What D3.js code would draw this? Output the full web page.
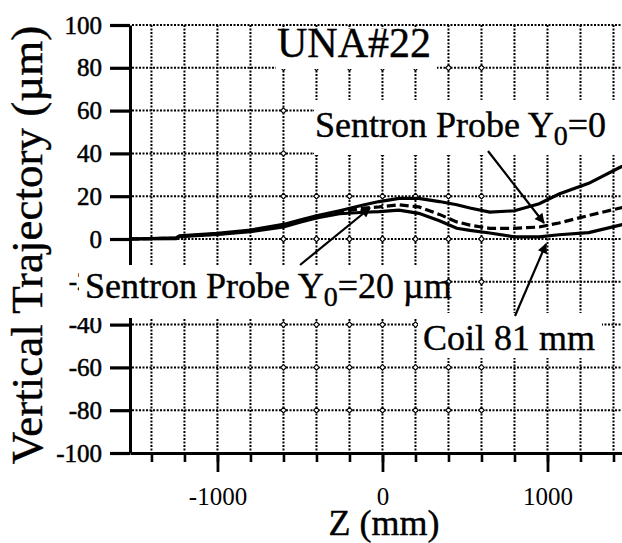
<!DOCTYPE html>
<html><head><meta charset="utf-8">
<script src="https://cdn.jsdelivr.net/npm/d3@7/dist/d3.min.js"></script>
<style>body{margin:0;background:#fff} svg{display:block;background:#fff}</style>
</head><body><svg id="c" width="622" height="543"></svg>
<script>
// ---- data ----
const zUpper = [-1530,-1250,-1230,-1000,-800,-600,-500,-400,-260,-110,-20,100,220,345,450,530,650,800,950,1070,1250,1440,1500];
const yUpper = [0,0.5,1.5,2.6,4.2,6.8,8.8,10.8,13.2,16,17.5,19,19,17.5,16,14.5,12.6,13.2,16.5,21,26,33.5,35.5];
const zDashed = [-1530,-1250,-1230,-1000,-800,-600,-500,-400,-260,-110,-20,100,220,345,450,530,650,800,950,1070,1250,1440,1500];
const yDashed = [0,0.4,1.3,2.3,3.8,6.2,8.2,10.3,12.5,14.5,15,16,15,11.5,8,6.5,5,5,5.6,7.5,11,14.5,15.5];
const zLower = [-1530,-1250,-1230,-1000,-800,-600,-500,-400,-260,-110,-20,100,220,345,450,530,650,800,950,1070,1250,1440,1500];
const yLower = [0,0.2,1.1,2.1,3.4,5.6,7.8,9.8,11.8,12.5,12.8,13.5,12,8.5,5,4,2.8,1,1,2,3,6.5,7.5];

const yTicks = [-100,-80,-60,-40,-20,0,20,40,60,80,100];
const yGridValues = [-80,-60,-40,-20,0,20,40,60,80,100];
const xMajorTicks = [-1000,0,1000];
const xMinorTicks = [-1400,-1200,-1000,-800,-600,-400,-200,0,200,400,600,800,1000,1200,1400];
const diamondZ = [-600,-400,-200,0,200,400,600];

const title = "UNA#22";
const xLabel = "Z (mm)";
const yLabel = "Vertical Trajectory (\u00b5m)";

// ---- layout ----
const FONT = '"Liberation Serif", serif';
const svg = d3.select("#c");
const x = d3.scaleLinear().domain([-1530,1500]).range([130,630]);
const y = d3.scaleLinear().domain([-100,100]).range([453,25]);
const fmt = d => String(d);

const grid = svg.append("g").attr("stroke","#000").attr("stroke-width",2).attr("stroke-dasharray","2,1.5");
grid.selectAll("line.v").data(xMinorTicks).join("line")
  .attr("x1",d=>x(d)).attr("x2",d=>x(d)).attr("y1",y(100)).attr("y2",y(-100));
grid.selectAll("line.h").data(yGridValues).join("line")
  .attr("x1",x(-1530)+2).attr("x2",622).attr("y1",d=>y(d)).attr("y2",d=>y(d));

// small open diamonds at some grid intersections (scan look)
const inter = [];
diamondZ.forEach(z=>yGridValues.filter(v=>v<100).forEach(v=>inter.push([z,v])));
svg.append("g").selectAll("path").data(inter).join("path")
  .attr("d",d=>`M${x(d[0])},${y(d[1])-2.8}l2.8,2.8l-2.8,2.8l-2.8,-2.8z`)
  .attr("fill","#fff").attr("stroke","#000").attr("stroke-width",1.2);

// axes
const ax = svg.append("g").attr("transform",`translate(${x(-1530)},0)`)
  .call(d3.axisLeft(y).tickValues(yTicks).tickSize(20).tickSizeOuter(0).tickPadding(8).tickFormat(fmt));
ax.select(".domain").attr("stroke-width",3);
ax.selectAll(".tick line").attr("stroke-width",3.2);
ax.selectAll("text").style("font-family",FONT).style("font-size","25px").attr("fill","#000")
  .attr("stroke","#000").attr("stroke-width",0.5);

const bxMinor = svg.append("g").attr("transform",`translate(0,${y(-100)})`)
  .call(d3.axisBottom(x).tickValues(xMinorTicks).tickSize(9).tickSizeOuter(0).tickFormat(""));
bxMinor.select(".domain").attr("stroke-width",3);
bxMinor.selectAll(".tick line").attr("stroke-width",2.6);
const bxMajor = svg.append("g").attr("transform",`translate(0,${y(-100)})`)
  .call(d3.axisBottom(x).tickValues(xMajorTicks).tickSize(19).tickSizeOuter(0).tickPadding(15).tickFormat(fmt));
bxMajor.select(".domain").remove();
bxMajor.selectAll(".tick line").attr("stroke-width",2.8);
bxMajor.selectAll("text").style("font-family",FONT).style("font-size","25px").attr("fill","#000");

// white boxes behind annotation labels (they break the grid)
const boxes = [
  [276,29,161,40],   // UNA#22
  [314,100,308,55],  // Sentron Y0=0
  [79,265,366,53],   // Sentron Y0=20
  [418,313,184,45]   // Coil
];
svg.append("g").selectAll("rect").data(boxes).join("rect")
  .attr("x",d=>d[0]).attr("y",d=>d[1]).attr("width",d=>d[2]).attr("height",d=>d[3]).attr("fill","#fff");

// curves
const line = d3.line().x(d=>x(d[0])).y(d=>y(d[1])).curve(d3.curveLinear);
const series = [
  {z:zUpper, v:yUpper, dash:null},
  {z:zDashed, v:yDashed, dash:"9,4"},
  {z:zLower, v:yLower, dash:null}
];
svg.append("g").selectAll("path").data(series).join("path")
  .attr("d",s=>line(s.z.map((z,i)=>[z,s.v[i]])))
  .attr("fill","none").attr("stroke","#000").attr("stroke-width",3.2)
  .attr("stroke-dasharray",s=>s.dash);

// text
const txt = (t,px,py,size,anchor)=>svg.append("text").attr("x",px).attr("y",py)
  .style("font-family",FONT).style("font-size",size+"px").attr("text-anchor",anchor||"start")
  .attr("fill","#000").attr("stroke","#000").attr("stroke-width",0.4).text(t);

txt(title,277,57,42);
const t1 = svg.append("text").attr("x",315).attr("y",137).style("font-family",FONT).style("font-size","36px")
  .attr("fill","#000").attr("stroke","#000").attr("stroke-width",0.4);
t1.append("tspan").text("Sentron Probe Y");
t1.append("tspan").style("font-size","28px").attr("dy",8).text("0");
t1.append("tspan").attr("dy",-8).text("=0");

const t2 = svg.append("text").attr("x",85).attr("y",298).style("font-family",FONT).style("font-size","36px")
  .attr("fill","#000").attr("stroke","#000").attr("stroke-width",0.4);
t2.append("tspan").text("Sentron Probe Y");
t2.append("tspan").style("font-size","28px").attr("dy",8).text("0");
t2.append("tspan").attr("dy",-8).text("=20 \u00b5m");

txt("Coil 81 mm",423,350,36);
txt(xLabel,384,535,36,"middle");
svg.append("text").attr("transform","translate(42,245) rotate(-90)")
  .style("font-family",FONT).style("font-size","45px").attr("text-anchor","middle")
  .attr("fill","#000").attr("stroke","#000").attr("stroke-width",0.4).text(yLabel);

// arrows
const defs = svg.append("defs");
defs.append("marker").attr("id","ah").attr("viewBox","0 0 10 10").attr("refX",9).attr("refY",5)
  .attr("markerWidth",12).attr("markerHeight",10).attr("markerUnits","userSpaceOnUse").attr("orient","auto")
  .append("path").attr("d","M0,0L10,5L0,10z").attr("fill","#000");
const arrows = [
  [488,151,544,223],
  [300,265,370,208],
  [515,316,546,244]
];
svg.append("g").selectAll("line").data(arrows).join("line")
  .attr("x1",d=>d[0]).attr("y1",d=>d[1]).attr("x2",d=>d[2]).attr("y2",d=>d[3])
  .attr("stroke","#000").attr("stroke-width",2.2).attr("marker-end","url(#ah)");
</script></body></html>
